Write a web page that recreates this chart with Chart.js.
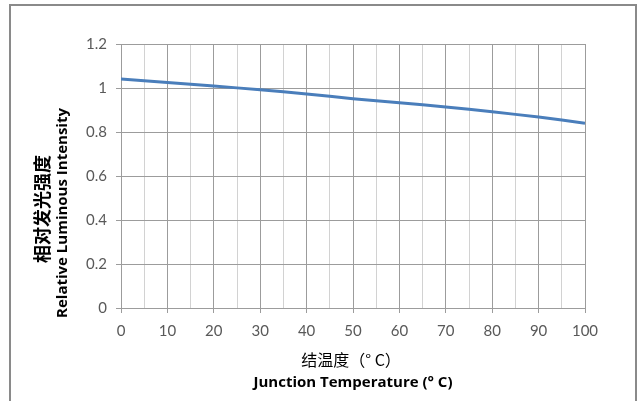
<!DOCTYPE html>
<html>
<head>
<meta charset="utf-8">
<script src="https://cdn.jsdelivr.net/npm/chart.js@4"></script>
<style>
  html, body { margin: 0; padding: 0; background: #fff; }
  #wrap { position: relative; width: 643px; height: 401px; }
  #frame { position: absolute; left: 9px; top: 4px; width: 628px; height: 410px; border: 2px solid #8a8a8a; box-sizing: border-box; }
  #chart { position: absolute; left: 0; top: 0; }
</style>
</head>
<body>
<div id="wrap">
  <div id="frame"></div>
  <canvas id="chart" width="643" height="401"></canvas>
</div>
<script>
// junction temperature (°C) vs relative luminous intensity
const temps = [0, 10, 20, 30, 40, 50, 60, 70, 80, 90, 100];
const intensity = [1.041, 1.025, 1.009, 0.992, 0.973, 0.951, 0.933, 0.914, 0.892, 0.868, 0.840];
const yTicks = [0, 0.2, 0.4, 0.6, 0.8, 1, 1.2];

const xTitleCn = '结温度（° C）';
const xTitleEn = 'Junction Temperature (° C)';
const yTitleCn = '相对发光强度';
const yTitleEn = 'Relative Luminous Intensity';

const majorGrid = '#9c9c9c';
const minorGrid = '#d2d2d2';

// axis titles drawn by hand: two fonts per axis
const titlesPlugin = {
    id: 'titles',
    afterDraw(chart) {
        const c = chart.ctx;
        const a = chart.chartArea;
        const cx = (a.left + a.right) / 2;
        c.save();
        c.fillStyle = '#000';
        c.textAlign = 'center';
        c.textBaseline = 'middle';
        c.font = '16px "Noto Sans CJK SC"';
        c.fillText(xTitleCn, cx - 2, 360);
        c.font = 'bold 15px "Open Sans"';
        c.fillText(xTitleEn, cx, 383);

        c.translate(42, 209);
        c.rotate(-Math.PI / 2);
        c.font = 'bold 18px "Noto Sans CJK SC"';
        c.fillText(yTitleCn, 0, 0);
        c.restore();

        c.save();
        c.translate(63, 213);
        c.rotate(-Math.PI / 2);
        c.fillStyle = '#000';
        c.textAlign = 'center';
        c.textBaseline = 'middle';
        c.font = 'bold 15px "Open Sans"';
        c.fillText(yTitleEn, 0, 0);
        c.restore();
    }
};

new Chart(document.getElementById('chart'), {
    type: 'line',
    data: {
        labels: temps,
        datasets: [{
            data: temps.map((t, i) => ({ x: t, y: intensity[i] })),
            borderColor: '#4a7ebb',
            borderWidth: 3,
            pointRadius: 0,
            tension: 0.1,
            fill: false
        }]
    },
    options: {
        responsive: false,
        animation: false,
        layout: { padding: { top: 44, right: 58, left: 0, bottom: 0 } },
        plugins: {
            legend: { display: false },
            tooltip: { enabled: false }
        },
        scales: {
            x: {
                type: 'linear',
                min: 0,
                max: 100,
                afterFit(scale) { scale.height = 93; },
                ticks: {
                    stepSize: 5,
                    autoSkip: false,
                    maxRotation: 0,
                    padding: 9,
                    color: '#595959',
                    font: { family: 'Lato', size: 15 },
                    callback: v => (v % 10 === 0 ? v : '')
                },
                grid: {
                    color: ctx => (ctx.tick && ctx.tick.value % 10 === 0 ? majorGrid : minorGrid),
                    tickColor: ctx => (ctx.tick && ctx.tick.value % 10 === 0 ? majorGrid : 'rgba(0,0,0,0)'),
                    tickLength: 5,
                    lineWidth: 1
                },
                border: { color: majorGrid }
            },
            y: {
                min: 0,
                max: 1.2,
                afterFit(scale) { scale.width = 121; },
                afterBuildTicks(scale) { scale.ticks = yTicks.map(v => ({ value: v })); },
                ticks: {
                    padding: 9,
                    color: '#595959',
                    font: { family: 'Lato', size: 15 },
                    callback: v => String(+v.toFixed(1))
                },
                grid: {
                    color: majorGrid,
                    tickColor: majorGrid,
                    tickLength: 5,
                    lineWidth: 1
                },
                border: { color: majorGrid }
            }
        }
    },
    plugins: [titlesPlugin]
});
</script>
</body>
</html>
